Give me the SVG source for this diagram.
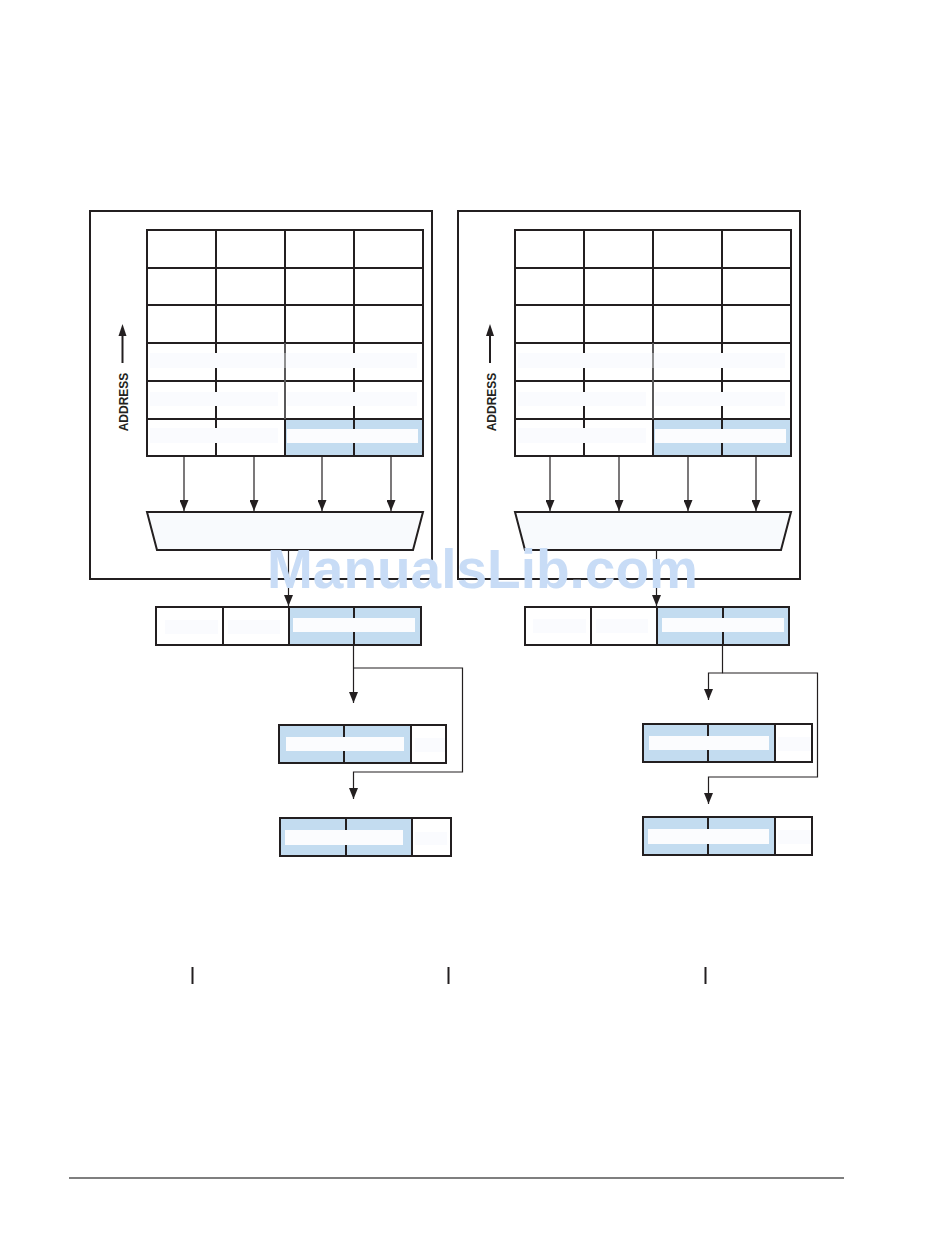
<svg xmlns="http://www.w3.org/2000/svg" width="950" height="1246" viewBox="0 0 950 1246">
<defs>
<style>
.box{fill:none;stroke:#231f20;stroke-width:2}
.grid{stroke:#231f20;stroke-width:2;fill:none}
.blue{fill:#c3dcf0}
.bar{fill:#fafbfe}
.wbar{fill:#fbfcfe}
.mux{fill:#f8fafd;stroke:#231f20;stroke-width:2}
.conn{fill:none;stroke:#231f20;stroke-width:1.2}
.lbl{font-family:"Liberation Sans",Arial,sans-serif;font-weight:bold;font-size:12px;fill:#231f20}
.wm{font-family:"Liberation Sans",Arial,sans-serif;font-weight:bold;font-size:55px;fill:#c8dcf6}
</style>
<marker id="ah" markerUnits="userSpaceOnUse" markerWidth="11" markerHeight="9" refX="11" refY="4.5" orient="auto">
<path d="M0,0 L11,4.5 L0,9 z" fill="#231f20"/>
</marker>
</defs>
<rect width="950" height="1246" fill="#ffffff"/>

<!-- LEFT PANEL -->
<g id="panel-left">
<rect class="box" x="90" y="211" width="342" height="368"/>
</g>
<g id="address-left">
<line x1="122.5" y1="335" x2="122.5" y2="363" stroke="#231f20" stroke-width="2"/>
<polygon points="122.5,324 118.5,336 126.5,336" fill="#231f20"/>
<text class="lbl" transform="translate(128,402) rotate(-90)" text-anchor="middle">ADDRESS</text>
</g>
<g id="memory-left">
<rect class="blue" x="285" y="419" width="138" height="37"/>
<path class="grid" d="M147,268H423M147,305H423M147,343H423M147,381H423M147,419H423M216,230V456M285,230V456M354,230V456"/>
<rect class="bar" x="150" y="353" width="267" height="15"/>
<rect class="bar" x="150" y="392" width="128" height="14"/>
<rect class="bar" x="287" y="392" width="130" height="14"/>
<rect class="bar" x="150" y="428" width="128" height="15"/>
<rect class="wbar" x="287" y="429" width="131" height="14"/>
<line x1="285" y1="343" x2="285" y2="419" stroke="#6d6d6d" stroke-width="1.5"/>
<line x1="285" y1="419" x2="285" y2="456" stroke="#231f20" stroke-width="2"/>
<rect class="box" x="147" y="230" width="276" height="226"/>
</g>
<g id="mux-left">
<polygon class="mux" points="147,512 423,512 413,550 157,550"/>
</g>
<g id="reg1-left">
<rect class="blue" x="289" y="607" width="132" height="38"/>
<path class="grid" d="M223,607V645M289,607V645M354,607V645"/>
<rect class="bar" x="165" y="620" width="53" height="14"/>
<rect class="bar" x="228" y="620" width="52" height="14"/>
<rect class="wbar" x="293" y="618" width="122" height="14"/>
<rect class="box" x="156" y="607" width="265" height="38"/>
</g>
<g id="reg2-left">
<rect class="blue" x="279" y="725" width="132" height="38"/>
<path class="grid" d="M344,725V763M411,725V763"/>
<rect class="wbar" x="286" y="737" width="118" height="14"/>
<rect class="bar" x="415" y="738" width="30" height="14"/>
<rect class="box" x="279" y="725" width="167" height="38"/>
</g>
<g id="reg3-left">
<rect class="blue" x="280" y="818" width="132" height="38"/>
<path class="grid" d="M346,818V856M412,818V856"/>
<rect class="wbar" x="285" y="830" width="118" height="15"/>
<rect class="bar" x="415" y="832" width="32" height="13"/>
<rect class="box" x="280" y="818" width="171" height="38"/>
</g>

<!-- RIGHT PANEL -->
<g id="panel-right">
<rect class="box" x="458" y="211" width="342" height="368"/>
</g>
<g id="address-right">
<line x1="490" y1="335" x2="490" y2="363" stroke="#231f20" stroke-width="2"/>
<polygon points="490,324 486,336 494,336" fill="#231f20"/>
<text class="lbl" transform="translate(495.5,402) rotate(-90)" text-anchor="middle">ADDRESS</text>
</g>
<g id="memory-right">
<rect class="blue" x="653" y="419" width="138" height="37"/>
<path class="grid" d="M515,268H791M515,305H791M515,343H791M515,381H791M515,419H791M584,230V456M653,230V456M722,230V456"/>
<rect class="bar" x="518" y="353" width="267" height="15"/>
<rect class="bar" x="518" y="392" width="128" height="14"/>
<rect class="bar" x="655" y="392" width="130" height="14"/>
<rect class="bar" x="518" y="428" width="128" height="15"/>
<rect class="wbar" x="655" y="429" width="131" height="14"/>
<line x1="653" y1="343" x2="653" y2="419" stroke="#6d6d6d" stroke-width="1.5"/>
<line x1="653" y1="419" x2="653" y2="456" stroke="#231f20" stroke-width="2"/>
<rect class="box" x="515" y="230" width="276" height="226"/>
</g>
<g id="mux-right">
<polygon class="mux" points="515,512 791,512 781,550 525,550"/>
</g>
<g id="reg1-right">
<rect class="blue" x="657" y="607" width="132" height="38"/>
<path class="grid" d="M591,607V645M657,607V645M723,607V645"/>
<rect class="bar" x="533" y="619" width="53" height="14"/>
<rect class="bar" x="596" y="619" width="52" height="14"/>
<rect class="wbar" x="662" y="618" width="122" height="14"/>
<rect class="box" x="525" y="607" width="264" height="38"/>
</g>
<g id="reg2-right">
<rect class="blue" x="643" y="724" width="132" height="38"/>
<path class="grid" d="M708,724V762M775,724V762"/>
<rect class="wbar" x="649" y="736" width="120" height="14"/>
<rect class="bar" x="778" y="737" width="33" height="14"/>
<rect class="box" x="643" y="724" width="169" height="38"/>
</g>
<g id="reg3-right">
<rect class="blue" x="643" y="817" width="132" height="38"/>
<path class="grid" d="M708,817V855M775,817V855"/>
<rect class="wbar" x="648" y="829" width="121" height="15"/>
<rect class="bar" x="778" y="830" width="33" height="14"/>
<rect class="box" x="643" y="817" width="169" height="38"/>
</g>

<!-- CONNECTORS -->
<g id="connectors">
<line class="conn" x1="184" y1="457" x2="184" y2="511" marker-end="url(#ah)"/>
<line class="conn" x1="254" y1="457" x2="254" y2="511" marker-end="url(#ah)"/>
<line class="conn" x1="322" y1="457" x2="322" y2="511" marker-end="url(#ah)"/>
<line class="conn" x1="391" y1="457" x2="391" y2="511" marker-end="url(#ah)"/>
<line class="conn" x1="288.5" y1="551" x2="288.5" y2="606" marker-end="url(#ah)"/>
<line class="conn" x1="353.5" y1="646" x2="353.5" y2="703" marker-end="url(#ah)"/>
<polyline class="conn" points="353.5,668 462.5,668 462.5,772 353.5,772 353.5,799" marker-end="url(#ah)"/>

<line class="conn" x1="550" y1="457" x2="550" y2="511" marker-end="url(#ah)"/>
<line class="conn" x1="619" y1="457" x2="619" y2="511" marker-end="url(#ah)"/>
<line class="conn" x1="688" y1="457" x2="688" y2="511" marker-end="url(#ah)"/>
<line class="conn" x1="756" y1="457" x2="756" y2="511" marker-end="url(#ah)"/>
<line class="conn" x1="656.5" y1="551" x2="656.5" y2="606" marker-end="url(#ah)"/>
<polyline class="conn" points="722.5,646 722.5,673 708.5,673 708.5,700" marker-end="url(#ah)"/>
<polyline class="conn" points="722.5,673 817.5,673 817.5,777 708.5,777 708.5,804" marker-end="url(#ah)"/>
</g>

<g id="ticks">
<line x1="192.5" y1="967" x2="192.5" y2="984" stroke="#231f20" stroke-width="2"/>
<line x1="448.5" y1="967" x2="448.5" y2="984" stroke="#231f20" stroke-width="2"/>
<line x1="705.5" y1="967" x2="705.5" y2="984" stroke="#231f20" stroke-width="2"/>
</g>
<line x1="69" y1="1178" x2="844" y2="1178" stroke="#555555" stroke-width="1.6"/>

<text class="wm" x="267" y="588">ManualsLib.com</text>
</svg>
